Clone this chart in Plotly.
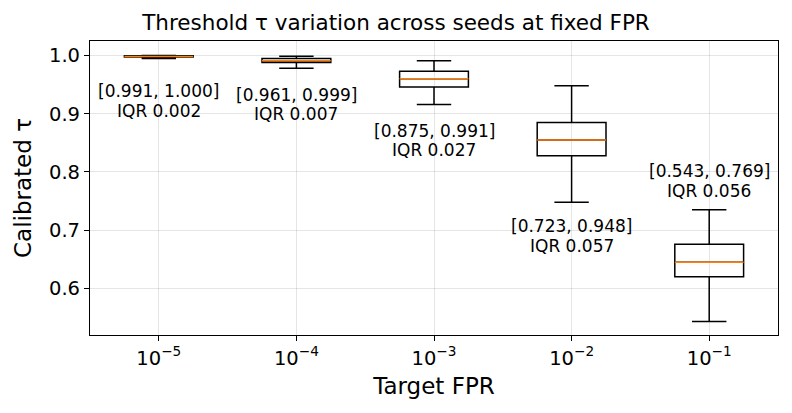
import plotly.graph_objects as go

# Data
fpr_labels = ["10<sup>\u22125</sup>", "10<sup>\u22124</sup>", "10<sup>\u22123</sup>", "10<sup>\u22122</sup>", "10<sup>\u22121</sup>"]
positions = [0, 1, 2, 3, 4]
q1 = [0.9975, 0.988, 0.946, 0.828, 0.620]
median = [0.9985, 0.991, 0.960, 0.855, 0.645]
q3 = [0.9995, 0.995, 0.973, 0.885, 0.676]
whisk_lo = [0.995, 0.978, 0.916, 0.748, 0.543]
whisk_hi = [1.000, 0.999, 0.991, 0.948, 0.735]
range_min = [0.991, 0.961, 0.875, 0.723, 0.543]
range_max = [1.000, 0.999, 0.991, 0.948, 0.769]
iqr = [0.002, 0.007, 0.027, 0.057, 0.056]
label_y = [0.922, 0.916, 0.854, 0.690, 0.7845]

BOX_W = 0.5
FONT = "DejaVu Sans"
W, H = 784, 405

fig = go.Figure()
fig.add_trace(go.Box(
    x=positions, q1=q1, median=median, q3=q3,
    lowerfence=whisk_lo, upperfence=whisk_hi,
    width=BOX_W, whiskerwidth=0.5,
    line=dict(color="black", width=1.5),
    fillcolor="rgba(0,0,0,0)",
    boxpoints=False, hoverinfo="skip", showlegend=False,
))

mx, my = [], []
for p, m in zip(positions, median):
    mx += [p - BOX_W / 2, p + BOX_W / 2, None]
    my += [m, m, None]
fig.add_trace(go.Scatter(x=mx, y=my, mode="lines",
                         line=dict(color="#ff7f0e", width=1.5),
                         hoverinfo="skip", showlegend=False))

for p, lo, hi, q, ly in zip(positions, range_min, range_max, iqr, label_y):
    fig.add_annotation(x=p, y=ly, xref="x", yref="y", yshift=9.7,
                       text=f"[{lo:.3f}, {hi:.3f}]", showarrow=False,
                       font=dict(family=FONT, size=17, color="black"))
    fig.add_annotation(x=p, y=ly, xref="x", yref="y", yshift=-9.7,
                       text=f"IQR {q:.3f}", showarrow=False,
                       font=dict(family=FONT, size=17, color="black"))

fig.update_layout(
    width=W, height=H,
    margin=dict(l=82, r=14, t=33, b=78),
    plot_bgcolor="white", paper_bgcolor="white",
    font=dict(family=FONT, color="black"),
    title=dict(text="Threshold \u03c4 variation across seeds at fixed FPR",
               x=388 / W, xanchor="center", xref="container",
               y=1 - 14 / H, yanchor="middle", yref="container",
               font=dict(size=21.5)),
)
fig.update_xaxes(
    range=[-0.5, 4.5], tickvals=positions, ticktext=fpr_labels,
    tickfont=dict(size=19.5), ticks="outside", ticklen=5, tickcolor="black",
    showline=True, linecolor="black", linewidth=1.2, mirror=True,
    showgrid=True, gridcolor="rgba(0,0,0,0.1)", zeroline=False,
    automargin=False,
    title=dict(text="Target FPR", font=dict(size=23), standoff=9),
)
fig.update_yaxes(
    range=[0.52, 1.025], tickvals=[0.6, 0.7, 0.8, 0.9, 1.0], tickformat=".1f",
    tickfont=dict(size=19.5), ticks="outside", ticklen=5, tickcolor="black",
    showline=True, linecolor="black", linewidth=1.2, mirror=True,
    showgrid=True, gridcolor="rgba(0,0,0,0.1)", zeroline=False,
    automargin=False,
    title=dict(text="Calibrated \u03c4", font=dict(size=23), standoff=10),
)

fig.write_html("out.html")
